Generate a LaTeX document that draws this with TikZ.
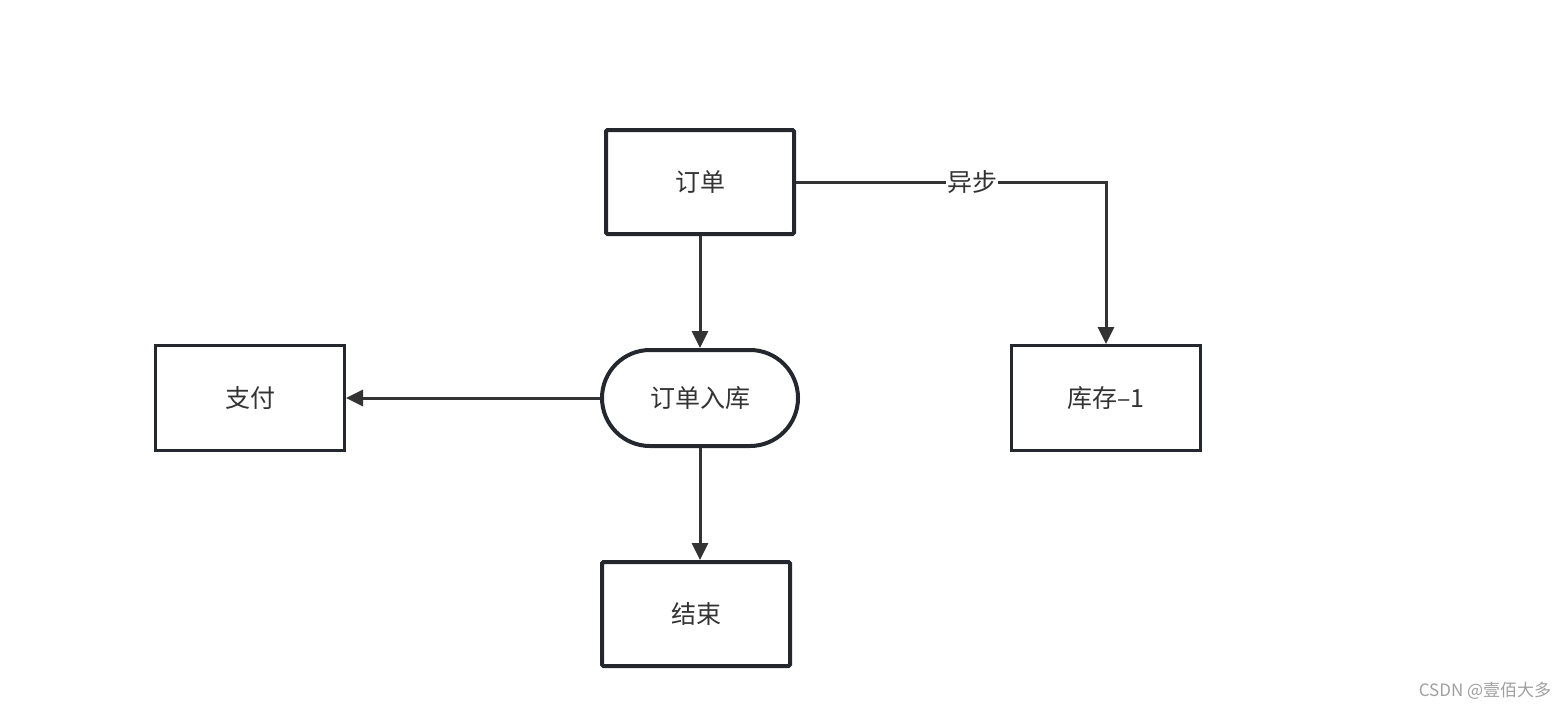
\documentclass[tikz,border=0pt]{standalone}
\usepackage{fontspec}
\setmainfont{Noto Sans CJK SC}
\usetikzlibrary{arrows.meta,calc}
\definecolor{edge}{HTML}{24282E}
\definecolor{conn}{HTML}{333333}
\tikzset{
  label font/.style={font=\fontsize{25}{29}\selectfont,text=conn},
  boxthick/.style={draw=edge,line width=4pt,rounded corners=1.5pt,minimum width=188pt,minimum height=104pt,inner sep=0pt,label font},
  boxthin/.style={draw=edge,line width=3pt,minimum width=189pt,minimum height=105pt,inner sep=0pt,label font},
  stadium/.style={draw=edge,line width=4pt,rounded corners=48pt,minimum width=196pt,minimum height=96pt,inner sep=0pt,label font},
  conn/.style={draw=conn,line width=3pt,-{Triangle[length=17pt,width=16pt]}},
}
\begin{document}
\begin{tikzpicture}[x=1pt,y=-1pt]
\useasboundingbox (0,0) rectangle (1568,710);
\node[boxthick] (order) at (700,182) {订单};
\node[stadium] (store) at (700,398) {订单入库};
\node[boxthin] (pay) at (250,398) {支付};
\node[boxthin] (stock) at (1106,398) {库存–1};
\node[boxthick] (end) at (696,614) {结束};
\coordinate (corner) at (1106,182);
\draw[conn] (order.south) -- (store.north);
\draw[conn] (store.west) -- (pay.east);
\draw[conn] (store.south) -- (store.south |- end.north);
\draw[conn] (order.east) -- (corner) -- (stock.north);
\node[fill=white,inner sep=1pt,label font] (async) at (972,182) {异步};
\node[font=\fontsize{17}{20}\selectfont,text=gray!75] (wm) at (1485,691) {CSDN @壹佰大多};
\end{tikzpicture}
\end{document}
